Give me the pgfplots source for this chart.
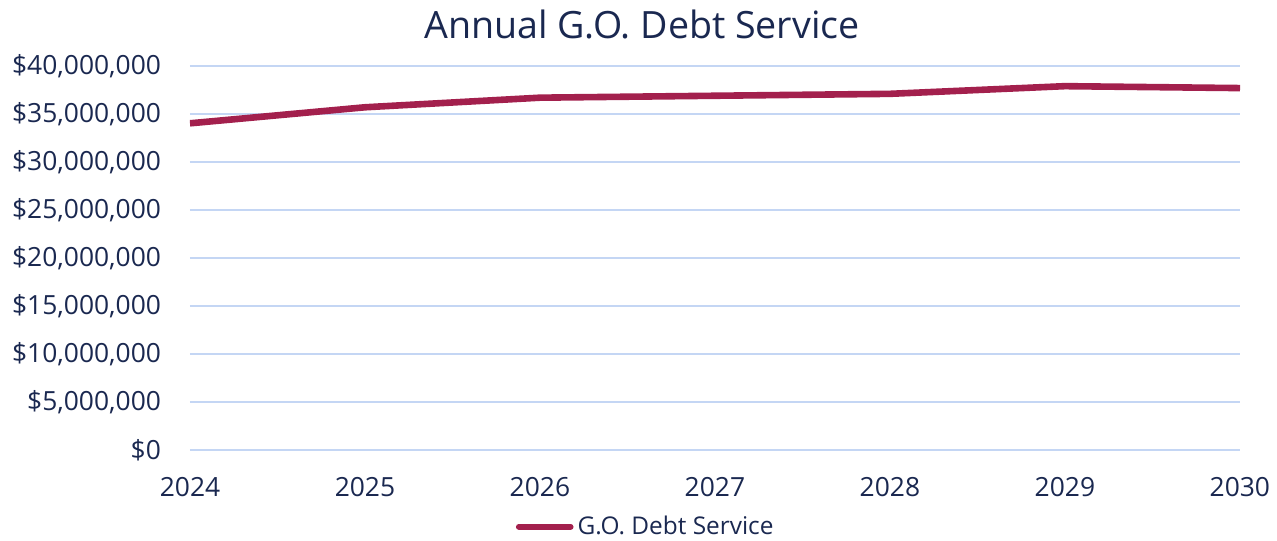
\documentclass[border=0pt]{standalone}
\usepackage{fontspec}
\setmainfont{Open Sans}
\usepackage{pgfplots}
\pgfplotsset{compat=1.18}

\definecolor{txt}{RGB}{26,40,80}
\definecolor{wine}{RGB}{163,32,77}
\definecolor{gridc}{RGB}{196,214,244}

\begin{document}
\begin{tikzpicture}
  \begin{axis}[
    name=ax,
    at={(0,0)}, anchor=south west,
    scale only axis,
    width=525pt, height=192pt,
    xmin=2024, xmax=2030,
    ymin=0, ymax=40000000,
    axis line style={draw=none},
    major tick length=0pt,
    xtick={2024,...,2030},
    xticklabels={2024,2025,2026,2027,2028,2029,2030},
    ytick={0,5000000,10000000,15000000,20000000,25000000,30000000,35000000,40000000},
    yticklabels={{\$0},{\$5,000,000},{\$10,000,000},{\$15,000,000},{\$20,000,000},
                 {\$25,000,000},{\$30,000,000},{\$35,000,000},{\$40,000,000}},
    scaled y ticks=false,
    ymajorgrids,
    grid style={gridc, line width=0.75pt},
    tick label style={font=\fontsize{13.2}{15}\selectfont, text=txt},
    yticklabel style={anchor=east, xshift=-11pt},
    xticklabel style={anchor=north, yshift=-10pt},
    legend style={at={(0.435,-0.2)}, anchor=center, draw=none, fill=none,
                  font=\fontsize{12.2}{14}\selectfont, text=txt,
                  /tikz/every even column/.append style={column sep=0pt}},
    legend image code/.code={\draw[#1, line width=2.8pt, line cap=round] (0pt,0pt) -- (26pt,0pt);},
    legend cell align=left,
  ]
    \addplot[wine, line width=3.3pt, line join=round] coordinates {
      (2024,34030000) (2025,35700000) (2026,36700000) (2027,36900000)
      (2028,37100000) (2029,37900000) (2030,37700000)
    };
    \addlegendentry{G.O. Debt Service}
  \end{axis}
  \node[text=txt, font=\fontsize{18.8}{22}\selectfont] at (226pt,213pt) {Annual G.O. Debt Service};
  \pgfresetboundingbox
  \path[use as bounding box] (-95pt,-45pt) rectangle (543.5pt,225pt);
\end{tikzpicture}
\end{document}
